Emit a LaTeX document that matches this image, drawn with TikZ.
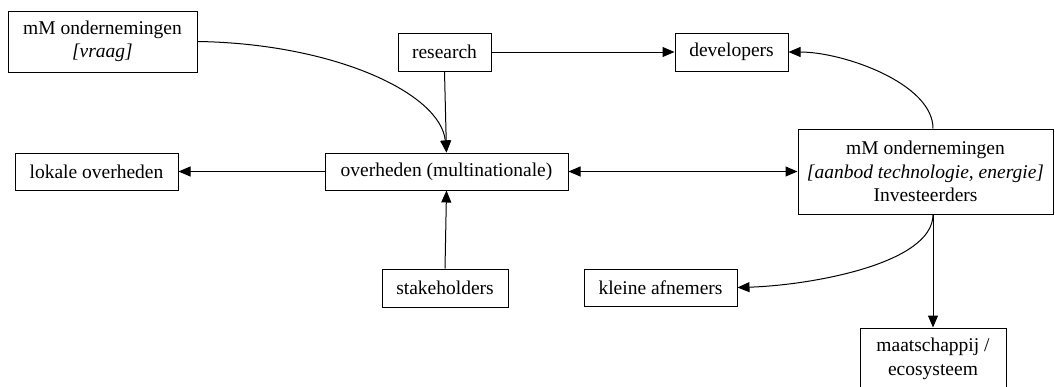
\documentclass[tikz,border=0pt]{standalone}
\usepackage{fontspec}
\setmainfont{Liberation Serif}
\usetikzlibrary{arrows.meta,calc}
\begin{document}
\begin{tikzpicture}[x=1pt,y=-1pt,
  box/.style={draw,line width=1pt,inner sep=0pt,align=center,font=\fontsize{19.5}{23.5}\selectfont},
  conn/.style={line width=1pt,-{Triangle[length=12pt,width=10pt]}},
  bconn/.style={line width=1pt,{Triangle[length=12pt,width=10pt]}-{Triangle[length=12pt,width=10pt]}}]
\useasboundingbox (0,0) rectangle (1055,386);
\node[box,minimum width=189pt,minimum height=61pt] (vraag) at (102.5,41.5) {mM ondernemingen\\\textit{[vraag]}};
\node[box,minimum width=93pt,minimum height=38pt] (research) at (444.5,52) {research};
\node[box,minimum width=113pt,minimum height=38pt] (dev) at (731.5,52) {developers};
\node[box,minimum width=163pt,minimum height=37pt] (lokale) at (96.5,171.5) {lokale overheden};
\node[box,minimum width=243pt,minimum height=37pt] (over) at (446.5,171.5) {overheden (multinationale)};
\node[box,minimum width=255pt,minimum height=85pt] (mmr) at (925.5,171.5) {mM ondernemingen\\\textit{[aanbod technologie, energie]}\\Investeerders};
\node[box,minimum width=126pt,minimum height=38pt] (stake) at (445,288) {stakeholders};
\node[box,minimum width=153pt,minimum height=37pt] (kleine) at (660.5,287.5) {kleine afnemers};
\node[box,minimum width=146pt,minimum height=62pt] (maat) at (933,359) {maatschappij /\\ecosysteem};
\draw[conn] (vraag.east) .. controls ($(vraag.east)+(135,2)$) and ($(over.north)+(-6,-60)$) .. (over.north);
\draw[conn] (research.south) -- (over.north);
\draw[conn] (research.east) -- (dev.west);
\draw[conn] (over.west) -- (lokale.east);
\draw[bconn] (over.east) -- (mmr.west);
\draw[conn] (stake.north) -- (over.south);
\draw[conn] (mmr.north -| maat.north) .. controls ($(mmr.north -| maat.north)+(0,-45)$) and ($(dev.east)+(55,0)$) .. (dev.east);
\draw[conn] (mmr.south -| maat.north) -- (maat.north);
\draw[conn] (mmr.south -| maat.north) .. controls ($(mmr.south -| maat.north)+(0,50)$) and ($(kleine.east)+(70,-2)$) .. (kleine.east);
\end{tikzpicture}
\end{document}
